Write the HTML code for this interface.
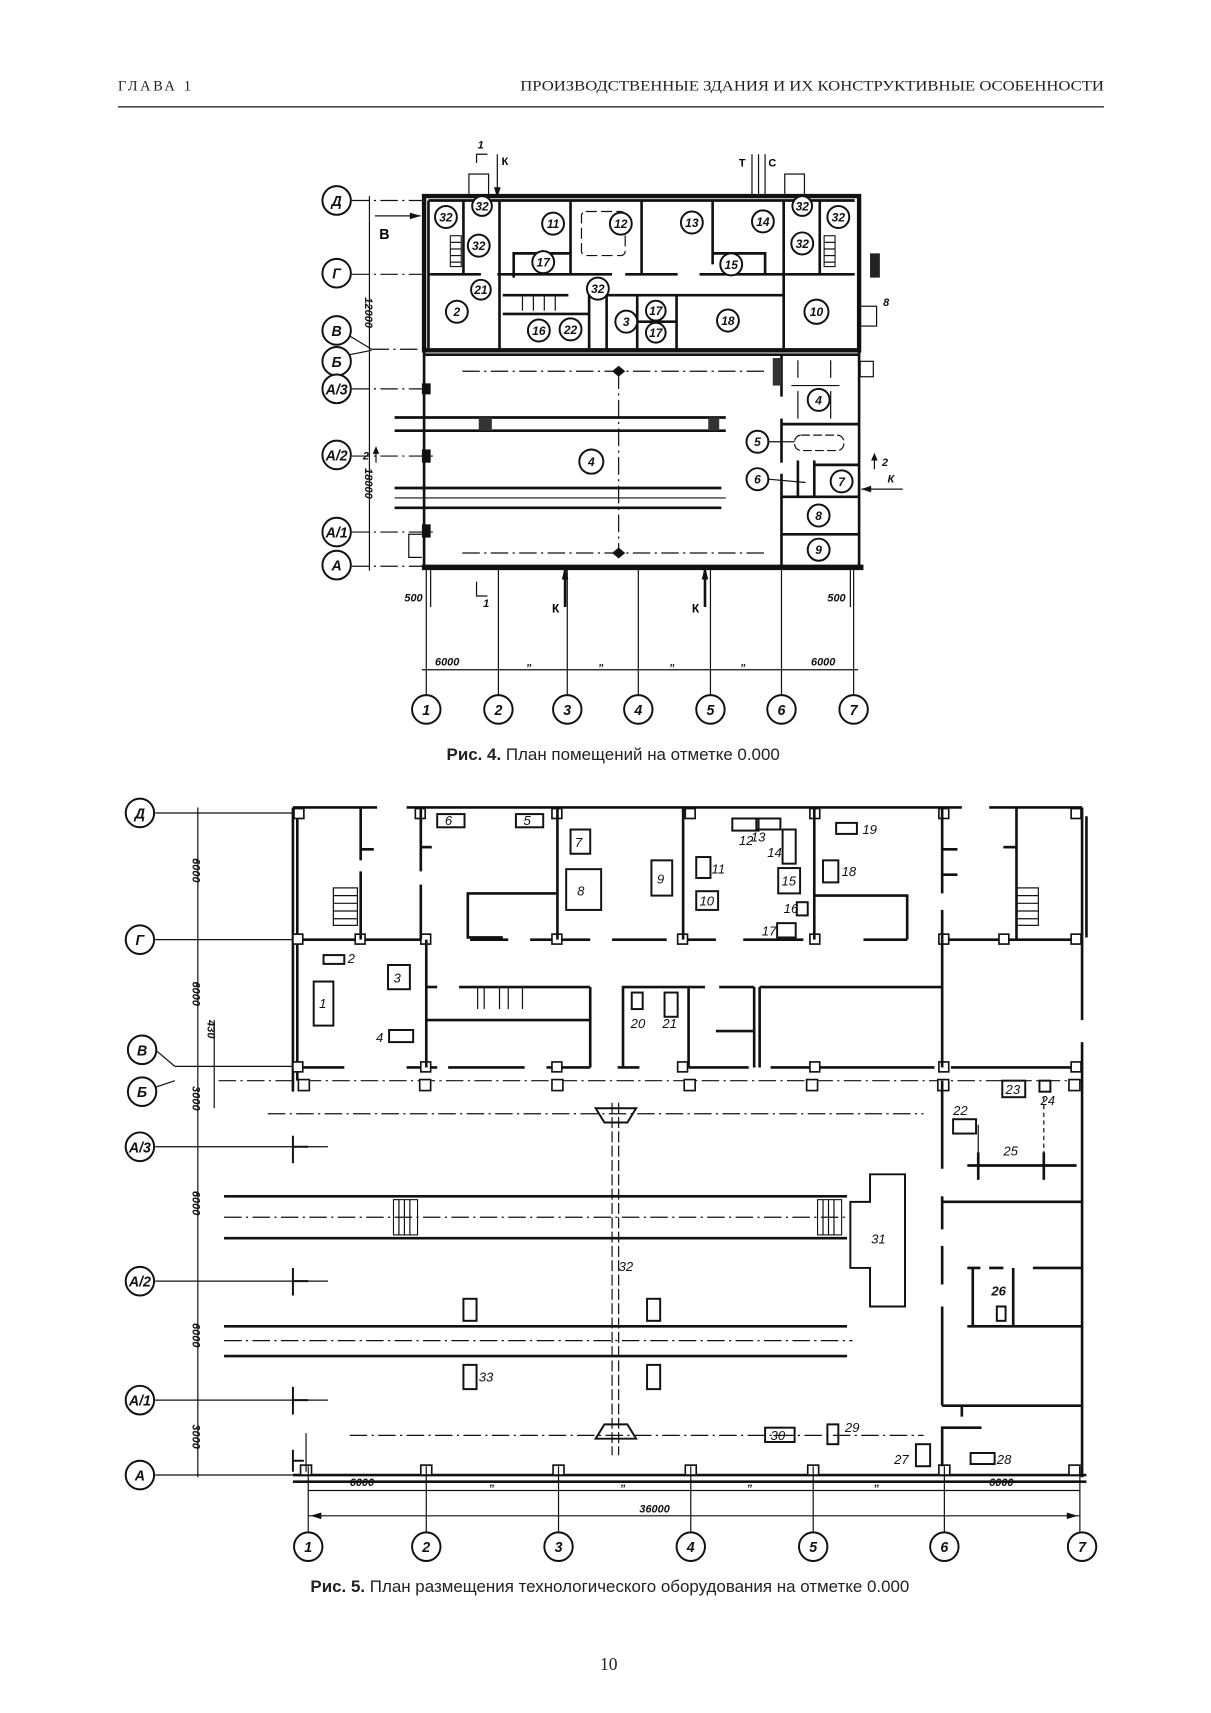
<!DOCTYPE html>
<html><head><meta charset="utf-8"><style>
html,body{margin:0;padding:0;background:#fff;}
svg{display:block;}
.w{stroke:#111;stroke-width:2.4;fill:none;}
.W{stroke:#111;stroke-width:4;fill:none;}
.t{stroke:#111;stroke-width:1.1;fill:none;}
.dd{stroke:#111;stroke-width:1.1;fill:none;stroke-dasharray:16 4 2 4;}
.b{stroke:#111;stroke-width:1.8;fill:#fff;}
.n{font-family:"Liberation Sans",sans-serif;font-style:italic;font-weight:bold;font-size:11px;fill:#111;text-anchor:middle;}
.l{font-family:"Liberation Sans",sans-serif;font-style:italic;font-size:12px;fill:#111;}
.bl{font-family:"Liberation Sans",sans-serif;font-style:italic;font-weight:bold;font-size:13px;fill:#111;text-anchor:middle;}
.dim{font-family:"Liberation Sans",sans-serif;font-style:italic;font-weight:bold;font-size:10px;fill:#111;}
.eq{stroke:#111;stroke-width:1.8;fill:none;}
</style></head><body>
<svg width="1211" height="1713" viewBox="0 0 1211 1713" xmlns="http://www.w3.org/2000/svg">
<g transform="scale(1.093,1.1016)">
<!-- header -->
<text x="108" y="82" font-family="Liberation Serif,serif" font-size="13" letter-spacing="2.5" fill="#222">ГЛАВА 1</text>
<text x="1010" y="82" text-anchor="end" font-family="Liberation Serif,serif" font-size="13" fill="#222" textLength="534" lengthAdjust="spacingAndGlyphs">ПРОИЗВОДСТВЕННЫЕ ЗДАНИЯ И ИХ КОНСТРУКТИВНЫЕ ОСОБЕННОСТИ</text>
<line x1="108" y1="97" x2="1010" y2="97" stroke="#111" stroke-width="1.2"/>

<!-- ================= FIG 4 ================= -->
<g>
<line class="dd" x1="322" y1="182" x2="388" y2="182"/>
<line class="dd" x1="322" y1="249" x2="388" y2="249"/>
<line class="t" x1="320" y1="305" x2="340" y2="317"/><line class="dd" x1="340" y1="317" x2="388" y2="317"/>
<line class="t" x1="320" y1="322" x2="340" y2="318"/>
<line class="dd" x1="322" y1="353" x2="392" y2="353"/>
<line class="dd" x1="322" y1="414" x2="400" y2="414"/>
<line class="dd" x1="322" y1="483" x2="400" y2="483"/>
<line class="dd" x1="322" y1="514" x2="388" y2="514"/>
<circle class="b" cx="308" cy="182" r="13"/><text class="bl" x="308" y="187">Д</text>
<circle class="b" cx="308" cy="248" r="13"/><text class="bl" x="308" y="253">Г</text>
<circle class="b" cx="308" cy="300" r="13"/><text class="bl" x="308" y="305">В</text>
<circle class="b" cx="308" cy="328" r="13"/><text class="bl" x="308" y="333">Б</text>
<circle class="b" cx="308" cy="353" r="13"/><text class="bl" x="308" y="358" font-size="10">А/3</text>
<circle class="b" cx="308" cy="413" r="13"/><text class="bl" x="308" y="418" font-size="10">А/2</text>
<circle class="b" cx="308" cy="483" r="13"/><text class="bl" x="308" y="488" font-size="10">А/1</text>
<circle class="b" cx="308" cy="513" r="13"/><text class="bl" x="308" y="518">А</text>
<line class="t" x1="338" y1="178" x2="338" y2="518"/>
<text class="dim" transform="translate(334,270) rotate(90)">12000</text>
<text class="dim" transform="translate(334,425) rotate(90)">18000</text>
<text x="347" y="217" font-family="Liberation Sans,sans-serif" font-weight="bold" font-size="13">В</text>
<line class="t" x1="343" y1="196" x2="385" y2="196"/><polygon points="385,196 375,193 375,199" fill="#111"/>
</g>
<text x="437" y="135" class="dim">1</text>
<polyline class="t" points="436,148 436,140 446,140"/>
<line class="t" x1="455" y1="140" x2="455" y2="178"/><polygon points="455,180 452,170 458,170" fill="#111"/>
<text x="459" y="150" font-family="Liberation Sans,sans-serif" font-weight="bold" font-size="10">К</text>
<text x="676" y="151" font-family="Liberation Sans,sans-serif" font-weight="bold" font-size="10">Т</text>
<line class="t" x1="688" y1="140" x2="688" y2="180"/><line class="t" x1="694" y1="140" x2="694" y2="180"/><line class="t" x1="700" y1="140" x2="700" y2="180"/>
<text x="703" y="151" font-family="Liberation Sans,sans-serif" font-weight="bold" font-size="10">С</text>
<rect class="t" x="429" y="158" width="18" height="20"/><rect class="t" x="718" y="158" width="18" height="20"/>
<rect class="W" x="388" y="178" width="398" height="140"/>
<line class="w" x1="392" y1="182" x2="782" y2="182"/>
<line class="w" x1="388" y1="318" x2="388" y2="514"/>
<line class="w" x1="786" y1="318" x2="786" y2="514"/>
<line x1="386" y1="515" x2="790" y2="515" stroke="#111" stroke-width="5"/>
<line class="w" x1="388" y1="322" x2="786" y2="322"/>
<line class="w" x1="392" y1="182" x2="392" y2="316"/>
<line class="w" x1="424" y1="182" x2="424" y2="249"/>
<line class="w" x1="457" y1="182" x2="457" y2="318"/>
<line class="w" x1="522" y1="182" x2="522" y2="249"/>
<line class="w" x1="587" y1="182" x2="587" y2="249"/>
<line class="w" x1="652" y1="182" x2="652" y2="240"/>
<line class="w" x1="717" y1="182" x2="717" y2="318"/>
<line class="w" x1="750" y1="182" x2="750" y2="249"/>
<line class="w" x1="392" y1="249" x2="440" y2="249"/><line class="w" x1="455" y1="249" x2="560" y2="249"/><line class="w" x1="572" y1="249" x2="620" y2="249"/><line class="w" x1="640" y1="249" x2="782" y2="249"/>
<polyline class="w" points="470,252 470,230 522,230"/>
<polyline class="w" points="652,230 700,230 700,249"/>
<line class="w" x1="555" y1="268" x2="717" y2="268"/>
<line class="w" x1="539" y1="268" x2="539" y2="318"/>
<line class="w" x1="555" y1="268" x2="555" y2="318"/>
<line class="w" x1="583" y1="268" x2="583" y2="318"/>
<line class="w" x1="619" y1="268" x2="619" y2="318"/>
<line class="w" x1="583" y1="292" x2="619" y2="292"/>
<line class="w" x1="460" y1="268" x2="520" y2="268"/><line class="w" x1="460" y1="285" x2="539" y2="285"/>
<line class="t" x1="478" y1="268" x2="478" y2="282"/><line class="t" x1="488" y1="268" x2="488" y2="282"/><line class="t" x1="498" y1="268" x2="498" y2="282"/><line class="t" x1="508" y1="268" x2="508" y2="282"/>
<rect class="t" x="532" y="192" width="40" height="40" rx="4" stroke-dasharray="10 4"/>
<rect x="412" y="214" width="10" height="28" fill="none" stroke="#111" stroke-width="1"/>
<line class="t" x1="412" y1="220" x2="422" y2="220"/><line class="t" x1="412" y1="226" x2="422" y2="226"/><line class="t" x1="412" y1="232" x2="422" y2="232"/><line class="t" x1="412" y1="238" x2="422" y2="238"/>
<rect x="754" y="214" width="10" height="28" fill="none" stroke="#111" stroke-width="1"/>
<line class="t" x1="754" y1="220" x2="764" y2="220"/><line class="t" x1="754" y1="226" x2="764" y2="226"/><line class="t" x1="754" y1="232" x2="764" y2="232"/><line class="t" x1="754" y1="238" x2="764" y2="238"/>
<rect x="796" y="230" width="9" height="22" fill="#222"/>
<rect class="t" x="786" y="278" width="16" height="18"/><text x="808" y="278" class="dim">8</text>
<g class="n">
<circle class="b" cx="408" cy="197" r="10"/><text x="408" y="201">32</text>
<circle class="b" cx="441" cy="187" r="9"/><text x="441" y="191">32</text>
<circle class="b" cx="438" cy="223" r="10"/><text x="438" y="227">32</text>
<circle class="b" cx="506" cy="203" r="10"/><text x="506" y="207">11</text>
<circle class="b" cx="568" cy="203" r="10"/><text x="568" y="207">12</text>
<circle class="b" cx="633" cy="202" r="10"/><text x="633" y="206">13</text>
<circle class="b" cx="698" cy="201" r="10"/><text x="698" y="205">14</text>
<circle class="b" cx="734" cy="187" r="9"/><text x="734" y="191">32</text>
<circle class="b" cx="767" cy="197" r="10"/><text x="767" y="201">32</text>
<circle class="b" cx="734" cy="221" r="10"/><text x="734" y="225">32</text>
<circle class="b" cx="497" cy="238" r="10"/><text x="497" y="242">17</text>
<circle class="b" cx="669" cy="240" r="10"/><text x="669" y="244">15</text>
<circle class="b" cx="440" cy="263" r="9"/><text x="440" y="267">21</text>
<circle class="b" cx="547" cy="262" r="10"/><text x="547" y="266">32</text>
<circle class="b" cx="418" cy="283" r="10"/><text x="418" y="287">2</text>
<circle class="b" cx="493" cy="300" r="10"/><text x="493" y="304">16</text>
<circle class="b" cx="522" cy="299" r="10"/><text x="522" y="303">22</text>
<circle class="b" cx="573" cy="292" r="10"/><text x="573" y="296">3</text>
<circle class="b" cx="600" cy="282" r="9"/><text x="600" y="286">17</text>
<circle class="b" cx="600" cy="302" r="9"/><text x="600" y="306">17</text>
<circle class="b" cx="666" cy="291" r="10"/><text x="666" y="295">18</text>
<circle class="b" cx="747" cy="283" r="11"/><text x="747" y="287">10</text>
</g>
<line class="dd" x1="423" y1="337" x2="700" y2="337"/>
<line class="dd" x1="423" y1="502" x2="700" y2="502"/>
<line class="dd" x1="566" y1="337" x2="566" y2="502"/>
<polygon points="566,332 572,337 566,342 560,337" fill="#111"/>
<polygon points="566,497 572,502 566,507 560,502" fill="#111"/>
<line class="w" x1="361" y1="379" x2="664" y2="379"/><line class="w" x1="361" y1="391" x2="664" y2="391"/>
<rect x="438" y="379" width="12" height="12" fill="#333"/><rect x="648" y="379" width="10" height="12" fill="#333"/>
<line class="w" x1="361" y1="443" x2="660" y2="443"/><line class="t" x1="361" y1="452" x2="664" y2="452"/><line class="w" x1="361" y1="461" x2="660" y2="461"/>
<rect x="386" y="348" width="8" height="10" fill="#111"/><rect x="386" y="408" width="8" height="12" fill="#111"/><rect x="386" y="476" width="8" height="12" fill="#111"/>
<polyline class="t" points="386,485 374,485 374,506 386,506"/>
<circle class="b" cx="541" cy="419" r="11"/><text class="n" x="541" y="423">4</text>
<line class="w" x1="715" y1="322" x2="715" y2="360"/><line class="w" x1="715" y1="380" x2="715" y2="420"/><line class="w" x1="715" y1="430" x2="715" y2="514"/>
<rect x="707" y="325" width="8" height="25" fill="#333"/>
<line class="w" x1="715" y1="385" x2="786" y2="385"/><line class="w" x1="715" y1="451" x2="786" y2="451"/><line class="w" x1="715" y1="485" x2="786" y2="485"/>
<line class="t" x1="730" y1="327" x2="730" y2="343"/><line class="t" x1="760" y1="327" x2="760" y2="343"/>
<line class="t" x1="724" y1="350" x2="768" y2="350"/><line class="t" x1="730" y1="355" x2="730" y2="380"/><line class="t" x1="760" y1="355" x2="760" y2="380"/>
<rect class="t" x="787" y="328" width="12" height="14"/>
<rect class="t" x="727" y="395" width="45" height="14" rx="6" stroke-dasharray="8 3"/>
<line class="w" x1="730" y1="418" x2="730" y2="451"/><line class="w" x1="745" y1="418" x2="745" y2="451"/><line class="w" x1="745" y1="422" x2="786" y2="422"/>
<circle class="b" cx="749" cy="363" r="10"/><text class="n" x="749" y="367">4</text>
<circle class="b" cx="693" cy="401" r="10"/><text class="n" x="693" y="405">5</text><line class="t" x1="703" y1="401" x2="727" y2="401"/>
<circle class="b" cx="693" cy="435" r="10"/><text class="n" x="693" y="439">6</text><line class="t" x1="703" y1="435" x2="737" y2="438"/>
<circle class="b" cx="770" cy="437" r="10"/><text class="n" x="770" y="441">7</text>
<circle class="b" cx="749" cy="468" r="10"/><text class="n" x="749" y="472">8</text>
<circle class="b" cx="749" cy="499" r="10"/><text class="n" x="749" y="503">9</text>
<text x="807" y="423" class="dim">2</text><line class="t" x1="800" y1="413" x2="800" y2="426"/><polygon points="800,411 797,418 803,418" fill="#111"/>
<text x="332" y="417" class="dim">2</text><line class="t" x1="344" y1="407" x2="344" y2="420"/><polygon points="344,405 341,412 347,412" fill="#111"/>
<line class="t" x1="788" y1="444" x2="826" y2="444"/><polygon points="788,444 797,441 797,447" fill="#111"/><text x="812" y="438" class="dim">К</text>
<g transform="translate(0,-4)">
<g>
<line class="t" x1="390" y1="518" x2="390" y2="640"/><line class="t" x1="456" y1="518" x2="456" y2="640"/><line class="t" x1="519" y1="518" x2="519" y2="640"/><line class="t" x1="584" y1="518" x2="584" y2="640"/><line class="t" x1="650" y1="518" x2="650" y2="640"/><line class="t" x1="715" y1="518" x2="715" y2="640"/><line class="t" x1="781" y1="518" x2="781" y2="640"/>
<line class="t" x1="386" y1="612" x2="785" y2="612"/>
<text x="398" y="608" class="dim">6000</text><text x="482" y="608" class="dim">„</text><text x="548" y="608" class="dim">„</text><text x="613" y="608" class="dim">„</text><text x="678" y="608" class="dim">„</text><text x="742" y="608" class="dim">6000</text>
<text x="370" y="550" class="dim" font-size="9">500</text><text x="757" y="550" class="dim" font-size="9">500</text>
<line class="t" x1="394" y1="518" x2="394" y2="555"/><line class="t" x1="778" y1="518" x2="778" y2="555"/>
<line class="w" x1="517" y1="518" x2="517" y2="555"/><polygon points="517,518 514,530 520,530" fill="#111"/><text x="505" y="560" font-family="Liberation Sans,sans-serif" font-weight="bold" font-size="11">К</text>
<line class="w" x1="645" y1="518" x2="645" y2="555"/><polygon points="645,518 642,530 648,530" fill="#111"/><text x="633" y="560" font-family="Liberation Sans,sans-serif" font-weight="bold" font-size="11">К</text>
<polyline class="t" points="436,532 436,545 446,545"/><text x="442" y="555" class="dim">1</text>
</g>
<g>
<circle class="b" cx="390" cy="648" r="13"/><text class="bl" x="390" y="653">1</text>
<circle class="b" cx="456" cy="648" r="13"/><text class="bl" x="456" y="653">2</text>
<circle class="b" cx="519" cy="648" r="13"/><text class="bl" x="519" y="653">3</text>
<circle class="b" cx="584" cy="648" r="13"/><text class="bl" x="584" y="653">4</text>
<circle class="b" cx="650" cy="648" r="13"/><text class="bl" x="650" y="653">5</text>
<circle class="b" cx="715" cy="648" r="13"/><text class="bl" x="715" y="653">6</text>
<circle class="b" cx="781" cy="648" r="13"/><text class="bl" x="781" y="653">7</text>
</g>
<text x="561" y="694" text-anchor="middle" font-family="Liberation Sans,sans-serif" font-size="15.5" fill="#222"><tspan font-weight="bold">Рис. 4.</tspan> План помещений на отметке 0.000</text>
</g>

<!-- ================= FIG 5 ================= -->
<g transform="translate(0,-9)">
<g>
<line class="t" x1="142" y1="747" x2="268" y2="747"/>
<line class="t" x1="142" y1="862" x2="268" y2="862"/>
<line class="t" x1="142" y1="962" x2="160" y2="977"/><line class="t" x1="160" y1="977" x2="268" y2="977"/>
<line class="t" x1="142" y1="996" x2="160" y2="990"/>
<line class="t" x1="142" y1="1050" x2="300" y2="1050"/>
<line class="t" x1="142" y1="1172" x2="300" y2="1172"/>
<line class="t" x1="142" y1="1280" x2="300" y2="1280"/>
<line class="t" x1="142" y1="1348" x2="268" y2="1348"/>
<circle class="b" cx="128" cy="747" r="13"/><text class="bl" x="128" y="752">Д</text>
<circle class="b" cx="128" cy="862" r="13"/><text class="bl" x="128" y="867">Г</text>
<circle class="b" cx="130" cy="962" r="13"/><text class="bl" x="130" y="967">В</text>
<circle class="b" cx="130" cy="1000" r="13"/><text class="bl" x="130" y="1005">Б</text>
<circle class="b" cx="128" cy="1050" r="13"/><text class="bl" x="128" y="1055" font-size="10">А/3</text>
<circle class="b" cx="128" cy="1172" r="13"/><text class="bl" x="128" y="1177" font-size="10">А/2</text>
<circle class="b" cx="128" cy="1280" r="13"/><text class="bl" x="128" y="1285" font-size="10">А/1</text>
<circle class="b" cx="128" cy="1348" r="13"/><text class="bl" x="128" y="1353">А</text>
<line class="t" x1="181" y1="742" x2="181" y2="1350"/>
<line class="t" x1="196" y1="935" x2="196" y2="1015"/>
<text class="dim" font-size="11" transform="translate(176,788) rotate(90)">6000</text>
<text class="dim" font-size="11" transform="translate(176,900) rotate(90)">6000</text>
<text class="dim" font-size="11" transform="translate(190,935) rotate(90)">430</text>
<text class="dim" font-size="11" transform="translate(176,995) rotate(90)">3000</text>
<text class="dim" font-size="11" transform="translate(176,1090) rotate(90)">6000</text>
<text class="dim" font-size="11" transform="translate(176,1210) rotate(90)">6000</text>
<text class="dim" font-size="11" transform="translate(176,1302) rotate(90)">3000</text>
</g>
<line class="w" x1="268" y1="742" x2="268" y2="1000"/>
<line class="w" x1="272" y1="742" x2="272" y2="990"/>
<line class="w" x1="268" y1="742" x2="345" y2="742"/>
<line class="w" x1="372" y1="742" x2="880" y2="742"/>
<line class="w" x1="905" y1="742" x2="990" y2="742"/>
<line class="w" x1="990" y1="742" x2="990" y2="935"/><line class="w" x1="990" y1="955" x2="990" y2="1350"/>
<line class="w" x1="994" y1="750" x2="994" y2="860"/>
<line class="w" x1="268" y1="1348" x2="994" y2="1348"/><line class="w" x1="268" y1="1354" x2="994" y2="1354"/>
<line class="w" x1="268" y1="862" x2="385" y2="862"/><line class="w" x1="430" y1="862" x2="465" y2="862"/><line class="w" x1="485" y1="862" x2="540" y2="862"/><line class="w" x1="560" y1="862" x2="610" y2="862"/><line class="w" x1="625" y1="862" x2="655" y2="862"/><line class="w" x1="680" y1="862" x2="735" y2="862"/><line class="w" x1="790" y1="862" x2="830" y2="862"/><line class="w" x1="862" y1="862" x2="990" y2="862"/>
<line class="w" x1="268" y1="978" x2="315" y2="978"/><line class="w" x1="372" y1="978" x2="400" y2="978"/><line class="w" x1="410" y1="978" x2="480" y2="978"/><line class="w" x1="500" y1="978" x2="540" y2="978"/><line class="w" x1="565" y1="978" x2="585" y2="978"/><line class="w" x1="630" y1="978" x2="685" y2="978"/><line class="w" x1="705" y1="978" x2="855" y2="978"/><line class="w" x1="870" y1="978" x2="990" y2="978"/>
<line class="dd" x1="200" y1="990" x2="990" y2="990"/>
<g fill="#fff" stroke="#111" stroke-width="1.5">
<rect x="269" y="743" width="9" height="9"/><rect x="380" y="743" width="9" height="9"/><rect x="505" y="743" width="9" height="9"/><rect x="627" y="743" width="9" height="9"/><rect x="741" y="743" width="9" height="9"/><rect x="859" y="743" width="9" height="9"/><rect x="980" y="743" width="9" height="9"/>
<rect x="268" y="857" width="9" height="9"/><rect x="325" y="857" width="9" height="9"/><rect x="385" y="857" width="9" height="9"/><rect x="505" y="857" width="9" height="9"/><rect x="620" y="857" width="9" height="9"/><rect x="741" y="857" width="9" height="9"/><rect x="859" y="857" width="9" height="9"/><rect x="914" y="857" width="9" height="9"/><rect x="980" y="857" width="9" height="9"/>
<rect x="268" y="973" width="9" height="9"/><rect x="385" y="973" width="9" height="9"/><rect x="505" y="973" width="9" height="9"/><rect x="620" y="973" width="9" height="9"/><rect x="741" y="973" width="9" height="9"/><rect x="859" y="973" width="9" height="9"/><rect x="980" y="973" width="9" height="9"/>
<rect x="273" y="989" width="10" height="10"/><rect x="384" y="989" width="10" height="10"/><rect x="505" y="989" width="10" height="10"/><rect x="626" y="989" width="10" height="10"/><rect x="738" y="989" width="10" height="10"/><rect x="858" y="989" width="10" height="10"/><rect x="978" y="989" width="10" height="10"/>
<rect x="275" y="1339" width="10" height="9"/><rect x="385" y="1339" width="10" height="9"/><rect x="506" y="1339" width="10" height="9"/><rect x="627" y="1339" width="10" height="9"/><rect x="739" y="1339" width="10" height="9"/><rect x="859" y="1339" width="10" height="9"/><rect x="978" y="1339" width="10" height="9"/>
</g>
<line class="w" x1="330" y1="742" x2="330" y2="790"/><line class="w" x1="330" y1="800" x2="330" y2="862"/><line class="w" x1="330" y1="780" x2="342" y2="780"/>
<line class="w" x1="385" y1="742" x2="385" y2="800"/><line class="w" x1="385" y1="812" x2="385" y2="862"/><line class="w" x1="385" y1="778" x2="395" y2="778"/>
<line class="w" x1="510" y1="742" x2="510" y2="862"/>
<polyline class="w" points="510,820 428,820 428,860 460,860"/>
<line class="w" x1="625" y1="742" x2="625" y2="862"/>
<line class="w" x1="745" y1="742" x2="745" y2="862"/>
<polyline class="w" points="745,822 830,822 830,862"/>
<line class="w" x1="862" y1="742" x2="862" y2="820"/><line class="w" x1="862" y1="835" x2="862" y2="862"/><line class="w" x1="862" y1="780" x2="876" y2="780"/><line class="w" x1="862" y1="803" x2="876" y2="803"/>
<line class="w" x1="930" y1="742" x2="930" y2="862"/><line class="w" x1="918" y1="778" x2="930" y2="778"/>
<rect class="t" x="305" y="815" width="22" height="34"/>
<line class="t" x1="305" y1="822" x2="327" y2="822"/><line class="t" x1="305" y1="829" x2="327" y2="829"/><line class="t" x1="305" y1="836" x2="327" y2="836"/><line class="t" x1="305" y1="843" x2="327" y2="843"/>
<rect class="t" x="930" y="815" width="20" height="34"/>
<line class="t" x1="930" y1="822" x2="950" y2="822"/><line class="t" x1="930" y1="829" x2="950" y2="829"/><line class="t" x1="930" y1="836" x2="950" y2="836"/><line class="t" x1="930" y1="843" x2="950" y2="843"/>
<line class="w" x1="390" y1="862" x2="390" y2="978"/>
<line class="w" x1="390" y1="905" x2="400" y2="905"/><line class="w" x1="420" y1="905" x2="540" y2="905"/>
<line class="w" x1="390" y1="935" x2="540" y2="935"/>
<line class="w" x1="540" y1="905" x2="540" y2="978"/>
<line class="t" x1="437" y1="905" x2="437" y2="925"/><line class="t" x1="443" y1="905" x2="443" y2="925"/><line class="t" x1="457" y1="905" x2="457" y2="925"/><line class="t" x1="465" y1="905" x2="465" y2="925"/><line class="t" x1="478" y1="905" x2="478" y2="925"/>
<polyline class="w" points="570,978 570,905 630,905 630,978"/>
<line class="w" x1="630" y1="905" x2="645" y2="905"/><line class="w" x1="658" y1="905" x2="690" y2="905"/>
<line class="w" x1="690" y1="905" x2="690" y2="978"/><line class="w" x1="655" y1="945" x2="690" y2="945"/>
<line class="w" x1="695" y1="905" x2="862" y2="905"/><line class="w" x1="695" y1="905" x2="695" y2="978"/>
<line class="w" x1="862" y1="862" x2="862" y2="978"/>
<g class="eq">
<rect x="400" y="748" width="25" height="12"/><rect x="472" y="748" width="25" height="12"/>
<rect x="522" y="762" width="18" height="22"/><rect x="518" y="798" width="32" height="37"/>
<rect x="596" y="790" width="19" height="32"/><rect x="637" y="787" width="13" height="19"/><rect x="637" y="818" width="20" height="17"/>
<rect x="670" y="752" width="24" height="11"/><rect x="692" y="752" width="22" height="10"/>
<rect x="716" y="762" width="12" height="31"/><rect x="712" y="797" width="20" height="23"/><rect x="729" y="828" width="10" height="12"/><rect x="711" y="847" width="17" height="13"/>
<rect x="753" y="790" width="14" height="20"/><rect x="765" y="756" width="19" height="10"/>
<rect x="296" y="876" width="19" height="8"/><rect x="355" y="885" width="20" height="22"/><rect x="287" y="900" width="18" height="40"/><rect x="356" y="944" width="22" height="11"/>
<rect x="578" y="910" width="10" height="15"/><rect x="608" y="910" width="12" height="22"/>
<rect x="917" y="990" width="21" height="15"/><rect x="951" y="990" width="10" height="10"/><rect x="872" y="1025" width="21" height="13"/>
<rect x="424" y="1188" width="12" height="20"/><rect x="592" y="1188" width="12" height="20"/><rect x="424" y="1248" width="12" height="22"/><rect x="592" y="1248" width="12" height="22"/>
<rect x="700" y="1305" width="27" height="13"/><rect x="757" y="1302" width="10" height="18"/><rect x="838" y="1320" width="13" height="20"/><rect x="888" y="1328" width="22" height="10"/>
<rect x="912" y="1195" width="8" height="13"/>
</g>
<g class="l">
<text x="407" y="758">6</text><text x="479" y="758">5</text><text x="526" y="778">7</text><text x="528" y="822">8</text><text x="601" y="811">9</text>
<text x="651" y="802">11</text><text x="640" y="831">10</text><text x="676" y="776">12</text><text x="687" y="773">13</text><text x="702" y="787">14</text><text x="715" y="813">15</text><text x="717" y="838">16</text><text x="697" y="858">17</text><text x="770" y="804">18</text><text x="789" y="766">19</text>
<text x="318" y="883">2</text><text x="360" y="901">3</text><text x="292" y="924">1</text><text x="344" y="955">4</text>
<text x="577" y="942">20</text><text x="606" y="942">21</text>
<text x="920" y="1002">23</text><text x="952" y="1012">24</text><text x="872" y="1021">22</text><text x="918" y="1058">25</text>
<text x="797" y="1138">31</text><text x="566" y="1163">32</text><text x="438" y="1263">33</text><text x="907" y="1185" font-weight="bold">26</text>
<text x="705" y="1316">30</text><text x="773" y="1309">29</text><text x="818" y="1338">27</text><text x="912" y="1338">28</text>
</g>
<line class="dd" x1="245" y1="1020" x2="845" y2="1020"/>
<line class="dd" x1="320" y1="1312" x2="845" y2="1312"/>
<line class="t" x1="560" y1="1010" x2="560" y2="1330" stroke-dasharray="10 3"/><line class="t" x1="566" y1="1010" x2="566" y2="1330" stroke-dasharray="10 3"/>
<polygon points="545,1015 582,1015 574,1028 553,1028" fill="none" stroke="#111" stroke-width="1.8"/>
<polygon points="545,1315 582,1315 574,1302 553,1302" fill="none" stroke="#111" stroke-width="1.8"/>
<line class="w" x1="205" y1="1095" x2="775" y2="1095"/><line class="w" x1="205" y1="1133" x2="775" y2="1133"/><line class="dd" x1="205" y1="1114" x2="775" y2="1114"/>
<rect x="360" y="1098" width="22" height="32" fill="none" stroke="#111" stroke-width="1"/><line class="t" x1="365" y1="1098" x2="365" y2="1130"/><line class="t" x1="370" y1="1098" x2="370" y2="1130"/><line class="t" x1="375" y1="1098" x2="375" y2="1130"/>
<rect x="748" y="1098" width="22" height="32" fill="none" stroke="#111" stroke-width="1"/><line class="t" x1="753" y1="1098" x2="753" y2="1130"/><line class="t" x1="758" y1="1098" x2="758" y2="1130"/><line class="t" x1="763" y1="1098" x2="763" y2="1130"/>
<line class="w" x1="205" y1="1213" x2="775" y2="1213"/><line class="w" x1="205" y1="1240" x2="775" y2="1240"/><line class="dd" x1="205" y1="1226" x2="780" y2="1226"/>
<polygon class="eq" points="796,1075 828,1075 828,1195 796,1195 796,1160 778,1160 778,1100 796,1100"/>
<g class="eq"><path d="M268,1040 V1065 M268,1050 H282"/><path d="M268,1160 V1185 M268,1172 H282"/><path d="M268,1268 V1293 M268,1280 H282"/><path d="M268,1325 V1345 M268,1335 H278"/></g>
<line class="t" x1="280" y1="1310" x2="280" y2="1345"/>
<line class="w" x1="862" y1="990" x2="862" y2="1070"/>
<line class="w" x1="862" y1="1095" x2="862" y2="1125"/><line class="w" x1="862" y1="1140" x2="862" y2="1175"/><line class="w" x1="862" y1="1195" x2="862" y2="1285"/>
<line class="w" x1="862" y1="1100" x2="990" y2="1100"/>
<line class="w" x1="885" y1="1160" x2="897" y2="1160"/><line class="w" x1="905" y1="1160" x2="918" y2="1160"/><line class="w" x1="945" y1="1160" x2="990" y2="1160"/>
<line class="w" x1="890" y1="1160" x2="890" y2="1213"/><line class="w" x1="927" y1="1160" x2="927" y2="1213"/>
<line class="w" x1="885" y1="1213" x2="990" y2="1213"/>
<polyline class="w" points="862,1285 990,1285"/><line class="w" x1="880" y1="1285" x2="880" y2="1295"/>
<polyline class="w" points="862,1340 862,1305 898,1305"/>
<line class="w" x1="885" y1="1067" x2="985" y2="1067"/>
<line class="w" x1="895" y1="1055" x2="895" y2="1080"/><line class="w" x1="955" y1="1055" x2="955" y2="1080"/>
<line class="t" x1="895" y1="1030" x2="895" y2="1055"/><line class="t" x1="955" y1="1005" x2="955" y2="1055" stroke-dasharray="4 3"/>
<g>
<line class="t" x1="282" y1="1340" x2="282" y2="1405"/><line class="t" x1="390" y1="1340" x2="390" y2="1400"/><line class="t" x1="511" y1="1340" x2="511" y2="1400"/><line class="t" x1="632" y1="1340" x2="632" y2="1400"/><line class="t" x1="744" y1="1340" x2="744" y2="1400"/><line class="t" x1="864" y1="1340" x2="864" y2="1400"/><line class="t" x1="988" y1="1340" x2="988" y2="1405"/>
<line class="t" x1="282" y1="1362" x2="988" y2="1362"/><line class="t" x1="282" y1="1385" x2="988" y2="1385"/>
<polygon points="284,1385 294,1382 294,1388" fill="#111"/><polygon points="986,1385 976,1382 976,1388" fill="#111"/>
<text x="320" y="1358" class="dim">6000</text><text x="448" y="1358" class="dim">„</text><text x="568" y="1358" class="dim">„</text><text x="684" y="1358" class="dim">„</text><text x="800" y="1358" class="dim">„</text><text x="905" y="1358" class="dim">6000</text>
<text x="585" y="1382" class="dim">36000</text>
</g>
<g>
<circle class="b" cx="282" cy="1413" r="13"/><text class="bl" x="282" y="1418">1</text>
<circle class="b" cx="390" cy="1413" r="13"/><text class="bl" x="390" y="1418">2</text>
<circle class="b" cx="511" cy="1413" r="13"/><text class="bl" x="511" y="1418">3</text>
<circle class="b" cx="632" cy="1413" r="13"/><text class="bl" x="632" y="1418">4</text>
<circle class="b" cx="744" cy="1413" r="13"/><text class="bl" x="744" y="1418">5</text>
<circle class="b" cx="864" cy="1413" r="13"/><text class="bl" x="864" y="1418">6</text>
<circle class="b" cx="990" cy="1413" r="13"/><text class="bl" x="990" y="1418">7</text>
</g>
<text x="558" y="1454" text-anchor="middle" font-family="Liberation Sans,sans-serif" font-size="15.5" fill="#222"><tspan font-weight="bold">Рис. 5.</tspan> План размещения технологического оборудования на отметке 0.000</text>
</g>
<text x="557" y="1516" text-anchor="middle" font-family="Liberation Serif,serif" font-size="16" fill="#222">10</text>
</g>
</svg>
</body></html>
